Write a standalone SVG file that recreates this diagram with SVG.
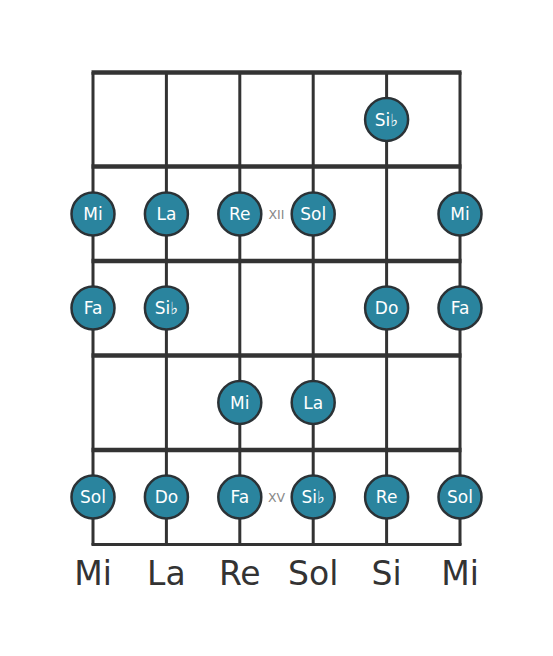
<svg xmlns="http://www.w3.org/2000/svg" width="553" height="656" viewBox="0 0 553 656">
<style>
.fret{stroke:#333;stroke-width:4.5;}
.str{stroke:#333;stroke-width:3;}
.note circle{fill:#2a849e;stroke:#2b3236;stroke-width:2.5;}
.note text{fill:#fff;font-family:"DejaVu Sans",sans-serif;font-size:17px;text-anchor:middle;dominant-baseline:central;}
.mark{fill:#888;font-family:"DejaVu Sans",sans-serif;font-size:12.5px;text-anchor:middle;dominant-baseline:central;}
.open{fill:#333;font-family:"DejaVu Sans",sans-serif;font-size:33px;text-anchor:middle;}
</style>
<rect width="553" height="656" fill="#fff"/>
<g id="fretboard">
<line class="str" x1="93" y1="72" x2="93" y2="545"/>
<line class="str" x1="166.4" y1="72" x2="166.4" y2="545"/>
<line class="str" x1="239.8" y1="72" x2="239.8" y2="545"/>
<line class="str" x1="313.2" y1="72" x2="313.2" y2="545"/>
<line class="str" x1="386.6" y1="72" x2="386.6" y2="545"/>
<line class="str" x1="460" y1="72" x2="460" y2="545"/>
<line class="fret" x1="91.5" y1="72.5" x2="461.5" y2="72.5"/>
<line class="fret" x1="91.5" y1="166.5" x2="461.5" y2="166.5"/>
<line class="fret" x1="91.5" y1="261" x2="461.5" y2="261"/>
<line class="fret" x1="91.5" y1="355.5" x2="461.5" y2="355.5"/>
<line class="fret" x1="91.5" y1="450" x2="461.5" y2="450"/>
<line class="str" x1="91.5" y1="544.5" x2="461.5" y2="544.5"/>
</g>
<g id="markers">
<text class="mark" x="276.5" y="214">XII</text>
<text class="mark" x="276.5" y="497">XV</text>
</g>
<g id="n1" class="note"><circle cx="386.6" cy="119.5" r="21.5"/><text x="386.6" y="119.5">Si♭</text></g>
<g id="n2" class="note"><circle cx="93" cy="214" r="21.5"/><text x="93" y="214">Mi</text></g>
<g id="n3" class="note"><circle cx="166.4" cy="214" r="21.5"/><text x="166.4" y="214">La</text></g>
<g id="n4" class="note"><circle cx="239.8" cy="214" r="21.5"/><text x="239.8" y="214">Re</text></g>
<g id="n5" class="note"><circle cx="313.2" cy="214" r="21.5"/><text x="313.2" y="214">Sol</text></g>
<g id="n6" class="note"><circle cx="460" cy="214" r="21.5"/><text x="460" y="214">Mi</text></g>
<g id="n7" class="note"><circle cx="93" cy="308" r="21.5"/><text x="93" y="308">Fa</text></g>
<g id="n8" class="note"><circle cx="166.4" cy="308" r="21.5"/><text x="166.4" y="308">Si♭</text></g>
<g id="n9" class="note"><circle cx="386.6" cy="308" r="21.5"/><text x="386.6" y="308">Do</text></g>
<g id="n10" class="note"><circle cx="460" cy="308" r="21.5"/><text x="460" y="308">Fa</text></g>
<g id="n11" class="note"><circle cx="239.8" cy="402.5" r="21.5"/><text x="239.8" y="402.5">Mi</text></g>
<g id="n12" class="note"><circle cx="313.2" cy="402.5" r="21.5"/><text x="313.2" y="402.5">La</text></g>
<g id="n13" class="note"><circle cx="93" cy="497" r="21.5"/><text x="93" y="497">Sol</text></g>
<g id="n14" class="note"><circle cx="166.4" cy="497" r="21.5"/><text x="166.4" y="497">Do</text></g>
<g id="n15" class="note"><circle cx="239.8" cy="497" r="21.5"/><text x="239.8" y="497">Fa</text></g>
<g id="n16" class="note"><circle cx="313.2" cy="497" r="21.5"/><text x="313.2" y="497">Si♭</text></g>
<g id="n17" class="note"><circle cx="386.6" cy="497" r="21.5"/><text x="386.6" y="497">Re</text></g>
<g id="n18" class="note"><circle cx="460" cy="497" r="21.5"/><text x="460" y="497">Sol</text></g>
<g id="labels">
<text class="open" x="93" y="585">Mi</text>
<text class="open" x="166.4" y="585">La</text>
<text class="open" x="239.8" y="585">Re</text>
<text class="open" x="313.2" y="585">Sol</text>
<text class="open" x="386.6" y="585">Si</text>
<text class="open" x="460" y="585">Mi</text>
</g>
</svg>
